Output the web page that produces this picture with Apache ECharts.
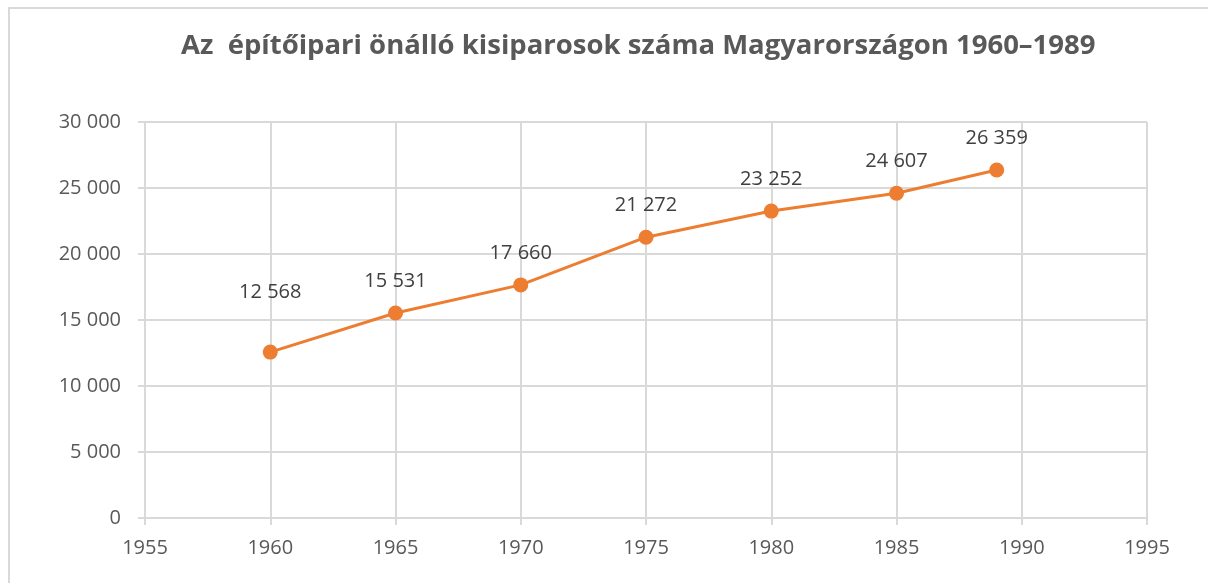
<!DOCTYPE html>
<html>
<head>
<meta charset="utf-8">
<script src="https://cdn.jsdelivr.net/npm/echarts@6/dist/echarts.min.js"></script>
<style>
  html, body { margin: 0; padding: 0; background: #fff; }
  #frame { position: absolute; left: 8px; top: 7px; width: 1400px; height: 800px; border: 2px solid #d9d9d9; }
  #chart { position: absolute; left: 0; top: 0; width: 1208px; height: 583px; }
</style>
</head>
<body>
<div id="frame"></div>
<div id="chart"></div>
<script>
// évek és kisiparosok száma
var years = [1960, 1965, 1970, 1975, 1980, 1985, 1989];
var counts = [12568, 15531, 17660, 21272, 23252, 24607, 26359];
var titleText = 'Az  építőipari önálló kisiparosok száma Magyarországon 1960–1989';

function fmt(v) {
    return String(v).replace(/\B(?=(\d{3})+(?!\d))/g, ' ');
}

var points = years.map(function (y, i) {
    var p = { value: [y, counts[i]] };
    if (i === 0) p.label = { offset: [0, -28] };
    return p;
});

var option = {
    backgroundColor: 'transparent',
    title: {
        text: titleText,
        left: 176,
        top: 27,
        textStyle: { fontFamily: 'Open Sans', fontSize: 27.5, fontWeight: 'bold', color: '#595959' }
    },
    grid: { left: 145, right: 61, top: 122, bottom: 65 },
    xAxis: {
        type: 'value',
        min: 1955, max: 1995, interval: 5,
        axisLine: { show: true, lineStyle: { color: '#d9d9d9', width: 2 } },
        axisTick: { show: true, length: 7, lineStyle: { color: '#d9d9d9', width: 2 } },
        splitLine: { show: true, lineStyle: { color: '#d9d9d9', width: 2 } },
        axisLabel: { color: '#595959', fontSize: 20, fontFamily: 'Open Sans', margin: 20,
            formatter: function (v) { return String(v); } }
    },
    yAxis: {
        type: 'value',
        min: 0, max: 30000, interval: 5000,
        axisLine: { show: false },
        axisTick: { show: true, length: 7, lineStyle: { color: '#d9d9d9', width: 2 } },
        splitLine: { show: true, lineStyle: { color: '#d9d9d9', width: 2 } },
        axisLabel: { color: '#595959', fontSize: 20, fontFamily: 'Open Sans', margin: 24, formatter: fmt }
    },
    series: [{
        type: 'line',
        data: points,
        symbol: 'circle',
        symbolSize: 15,
        lineStyle: { color: '#ED7D31', width: 3 },
        itemStyle: { color: '#ED7D31' },
        label: {
            show: true,
            position: 'top',
            distance: 14,
            color: '#404040',
            fontSize: 20,
            fontFamily: 'Open Sans',
            formatter: function (p) { return fmt(p.value[1]); }
        },
        animation: false
    }]
};

var myChart = echarts.init(document.getElementById('chart'));
myChart.setOption(option);
</script>
</body>
</html>
